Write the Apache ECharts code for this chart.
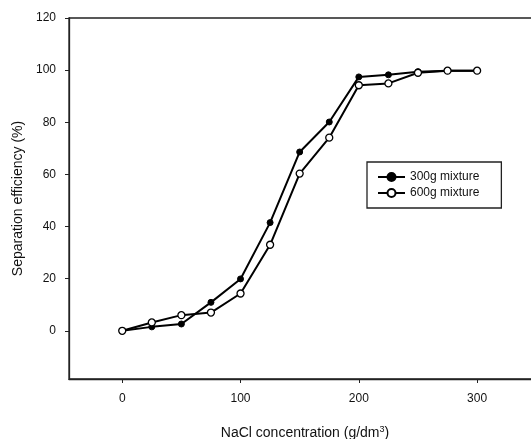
<!DOCTYPE html>
<html>
<head>
<meta charset="utf-8">
<script src="https://cdn.jsdelivr.net/npm/echarts@6/dist/echarts.min.js"></script>
<style>
    html, body {margin: 0; padding: 0; background: #fff;}
    #chart {width: 531px; height: 439px;}
</style>
</head>
<body>
<div id="chart"></div>
<script>
// NaCl concentration (g/dm3)
const concentration = [0, 25, 50, 75, 100, 125, 150, 175, 200, 225, 250, 275, 300];
const mix300 = [0, 1.5, 2.6, 10.9, 19.9, 41.5, 68.6, 80.1, 97.4, 98.2, 99.4, 99.8, 99.8];
const mix600 = [0, 3.2, 6.0, 7.0, 14.3, 33.0, 60.3, 74.1, 94.2, 94.9, 99.0, 99.8, 99.8];
const xTicks = [0, 100, 200, 300];
const yTicks = [0, 20, 40, 60, 80, 100, 120];

function pairs(xs, ys) {
    const out = [];
    for (let i = 0; i < xs.length; i++) {
        out.push([xs[i], ys[i]]);
    }
    return out;
}

const chart = echarts.init(document.getElementById('chart'));

const font = 'Liberation Sans, Arial, sans-serif';

const option = {
    animation: false,
    textStyle: {fontFamily: font},
    grid: {
        left: 69,
        right: -10,
        top: 18,
        bottom: 60,
        outerBoundsMode: 'none',
        show: true,
        borderColor: '#222',
        borderWidth: 1.3,
        backgroundColor: 'transparent'
    },
    legend: {
        orient: 'vertical',
        left: 367,
        top: 162,
        padding: [9, 22, 9, 10],
        itemGap: 4,
        itemWidth: 27,
        itemHeight: 10,
        borderColor: '#222',
        borderWidth: 1.3,
        textStyle: {fontFamily: font, fontSize: 12, color: '#111'},
        data: ['300g mixture', '600g mixture']
    },
    xAxis: {
        type: 'value',
        min: -45,
        max: 354,
        name: 'NaCl concentration (g/dm{sup|3})',
        nameLocation: 'middle',
        nameGap: 46,
        nameTextStyle: {
            fontFamily: font, fontSize: 14, color: '#111',
            rich: {sup: {fontSize: 9, verticalAlign: 'top', padding: [0, 0, 8, 0], color: '#111'}}
        },
        splitLine: {show: false},
        axisLine: {onZero: false, lineStyle: {color: '#222', width: 1.3}},
        axisTick: {customValues: xTicks, length: 4, lineStyle: {color: '#222'}},
        axisLabel: {customValues: xTicks, margin: 14, fontSize: 12, color: '#111'}
    },
    yAxis: {
        type: 'value',
        min: -18.5,
        max: 120,
        name: 'Separation efficiency (%)',
        nameLocation: 'middle',
        nameGap: 44,
        nameTextStyle: {fontFamily: font, fontSize: 14, color: '#111'},
        splitLine: {show: false},
        axisLine: {onZero: false, lineStyle: {color: '#222', width: 1.3}},
        axisTick: {customValues: yTicks, length: 4, lineStyle: {color: '#222'}},
        axisLabel: {customValues: yTicks, margin: 13, fontSize: 12, color: '#111'}
    },
    series: [
        {
            name: '300g mixture',
            type: 'line',
            data: pairs(concentration, mix300),
            symbol: 'circle',
            symbolSize: 6,
            lineStyle: {color: '#000', width: 2},
            itemStyle: {color: '#000', borderColor: '#000', borderWidth: 1}
        },
        {
            name: '600g mixture',
            type: 'line',
            data: pairs(concentration, mix600),
            symbol: 'circle',
            symbolSize: 7,
            lineStyle: {color: '#000', width: 2},
            itemStyle: {color: '#fff', borderColor: '#000', borderWidth: 1.3}
        }
    ]
};

chart.setOption(option);
</script>
</body>
</html>
